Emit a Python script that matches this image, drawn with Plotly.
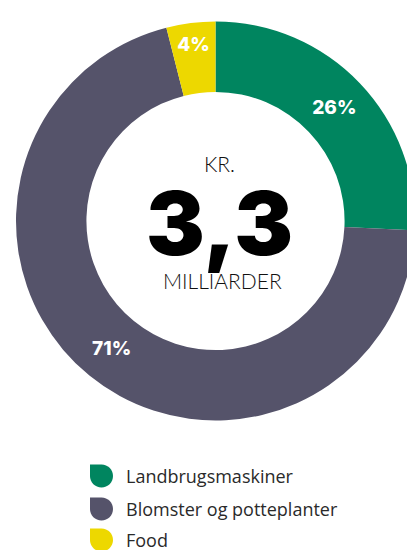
import plotly.graph_objects as go

# data
categories = ["Landbrugsmaskiner", "Blomster og potteplanter", "Food"]
shares = [26, 71, 4]
colors = ["#00855F", "#55536A", "#EDD800"]
total_label = "3,3"
unit_top = "KR."
unit_bottom = "MILLIARDER"

# la page a une marge de 8px autour du graphique
OFF = 8
W, H = 415 - OFF, 550 - OFF


def px(x):
    # x en pixels de la fenêtre -> fraction du papier
    return (x - OFF) / W


def py(y):
    return 1 - (y - OFF) / H


fig = go.Figure()

fig.add_trace(go.Pie(
    labels=categories,
    values=shares,
    marker=dict(colors=colors, line=dict(width=0)),
    hole=0.647,
    sort=False,
    direction="clockwise",
    rotation=0,
    texttemplate="%{value}%",
    textposition="inside",
    insidetextorientation="horizontal",
    textfont=dict(family="Inter", size=19, color="white", weight=800),
    showlegend=False,
    hoverinfo="label+value",
    domain=dict(x=[px(16), 1], y=[py(420.5), py(21.5)]),
))

# texte au centre
annotations = [
    dict(x=px(219), y=py(163), text=unit_top,
         font=dict(family="Lato", size=21, color="#111", weight=300)),
    dict(x=px(219), y=py(223), text=total_label,
         font=dict(family="Inter", size=88, color="#000", weight=900)),
    dict(x=px(222), y=py(280), text=unit_bottom,
         font=dict(family="Lato", size=21, color="#111", weight=300)),
]
for a in annotations:
    a.update(xref="paper", yref="paper", showarrow=False,
             xanchor="center", yanchor="middle")

# légende faite main (feuilles)
shapes = []
row_y = [476, 509, 540]
s = 23
r = s / 2
k = 0.5523 * r
for name, col, cy in zip(categories, colors, row_y):
    x0, y0 = 90, cy - r
    pts = [
        ("M", [(x0, y0)]),
        ("L", [(x0 + r, y0)]),
        ("C", [(x0 + r + k, y0), (x0 + s, y0 + r - k), (x0 + s, y0 + r)]),
        ("C", [(x0 + s, y0 + r + k), (x0 + r + k, y0 + s), (x0 + r, y0 + s)]),
        ("C", [(x0 + r - k, y0 + s), (x0, y0 + r + k), (x0, y0 + r)]),
    ]
    path = ""
    for cmd, coords in pts:
        path += cmd + " " + " ".join(f"{px(a):.5f},{py(b):.5f}" for a, b in coords) + " "
    path += "Z"
    shapes.append(dict(type="path", path=path, xref="paper", yref="paper",
                       fillcolor=col, line=dict(width=0)))
    annotations.append(dict(
        x=px(124), y=py(cy), xref="paper", yref="paper", text=name,
        showarrow=False, xanchor="left", yanchor="middle",
        font=dict(family="Open Sans", size=18, color="#2a2a2a"),
    ))

fig.update_layout(
    width=W,
    height=H,
    margin=dict(l=0, r=0, t=0, b=0),
    paper_bgcolor="white",
    plot_bgcolor="white",
    annotations=annotations,
    shapes=shapes,
)

fig.write_html("out.html")
